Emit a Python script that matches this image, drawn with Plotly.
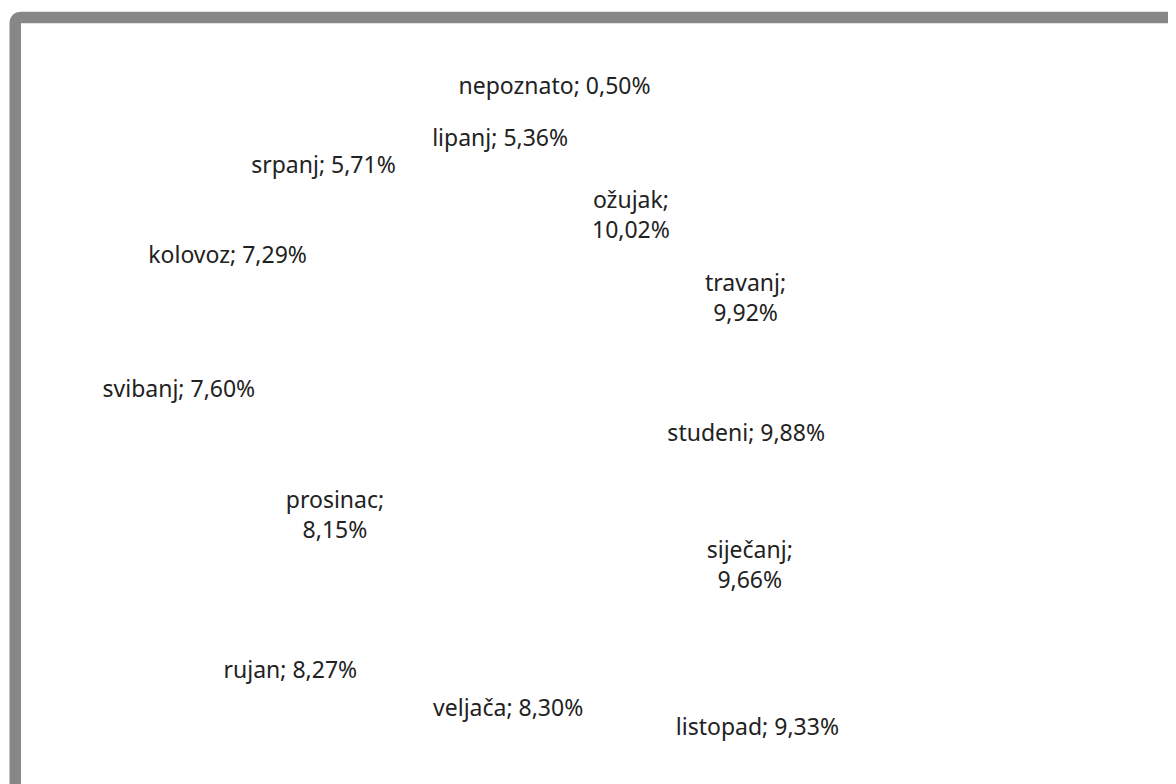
import plotly.graph_objects as go

months = ["siječanj", "veljača", "ožujak", "travanj", "svibanj", "lipanj",
          "srpanj", "kolovoz", "rujan", "listopad", "studeni", "prosinac", "nepoznato"]
shares = [9.66, 8.30, 10.02, 9.92, 7.60, 5.36, 5.71, 7.29, 8.27, 9.33, 9.88, 8.15, 0.50]
wrapped = ["ožujak", "travanj", "siječanj", "prosinac"]

# label placement groups (Excel "best fit" look)
inner_inside = ["ožujak", "travanj", "studeni", "siječanj", "prosinac"]
inner_outside = ["svibanj", "kolovoz", "srpanj", "rujan", "listopad"]
outer_inside = ["nepoznato", "lipanj", "veljača"]

def label(m, v):
    sep = "<br>" if m in wrapped else " "
    return f"{m};{sep}{v:.2f}%".replace(".", ",")

labels_all = [label(m, v) for m, v in zip(months, shares)]

# figure is offset 8px by the page body margin
W, H = 1168, 776
cx, cy = 552, 424           # pie centre in figure pixels
r_in, r_out = 300, 352

def dom(r):
    return dict(x=[(cx - r) / W, (cx + r) / W], y=[(H - cy - r) / H, (H - cy + r) / H])

font = dict(family="Noto Sans", size=23, color="#222222")
common = dict(labels=months, values=shares, textinfo="text", sort=True,
              direction="clockwise", rotation=0, insidetextorientation="horizontal",
              marker=dict(colors=["rgba(0,0,0,0)"] * len(months),
                          line=dict(width=0, color="rgba(0,0,0,0)")),
              textfont=font, showlegend=False, hoverinfo="skip")

fig = go.Figure()
fig.add_trace(go.Pie(
    text=[t if m in outer_inside else "" for m, t in zip(months, labels_all)],
    textposition="inside", domain=dom(r_out), **common))
fig.add_trace(go.Pie(
    text=[t if m in inner_inside + inner_outside else "" for m, t in zip(months, labels_all)],
    textposition=["outside" if m in inner_outside else "inside" for m in months],
    domain=dom(r_in), **common))

# rounded grey chart-area frame
x0, y0, rad = 7.25 / W, 1 - 9.5 / H, 6
fig.add_shape(type="path", xref="paper", yref="paper",
              path=f"M {x0},-0.1 L {x0},{y0 - rad / H} Q {x0},{y0} {x0 + rad / W},{y0} L 1.1,{y0}",
              line=dict(color="#878787", width=11.5))

fig.update_layout(
    width=W, height=H, margin=dict(l=0, r=0, t=0, b=0),
    paper_bgcolor="white", plot_bgcolor="white", separators=",.",
    uniformtext=dict(minsize=23, mode="show"),
)
fig.write_html("out.html")
